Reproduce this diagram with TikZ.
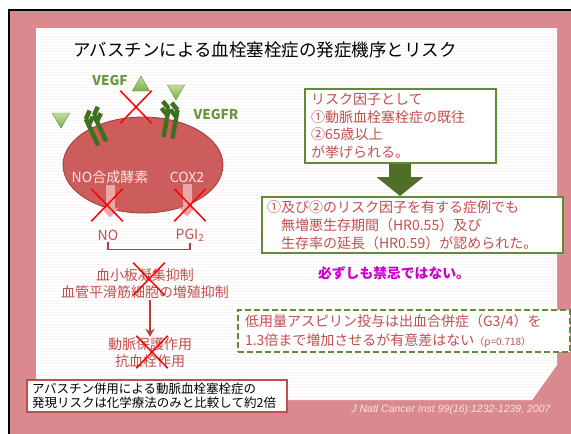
\documentclass[tikz,border=0pt]{standalone}
\usepackage{fontspec}
\setmainfont{Noto Sans CJK JP}
\newfontfamily\citefont{Liberation Sans}
\usetikzlibrary{shapes.geometric,shapes.misc,arrows.meta}

\definecolor{slidepink}{RGB}{218,138,143}
\definecolor{paperline}{RGB}{250,245,246}
\definecolor{cellred}{RGB}{205,92,92}
\definecolor{celledge}{RGB}{165,55,55}
\definecolor{textred}{RGB}{192,80,77}
\definecolor{boxgreen}{RGB}{98,140,52}
\definecolor{arrowgreen}{RGB}{79,110,38}
\definecolor{ligandgreen}{RGB}{140,195,80}
\definecolor{receptorgreen}{RGB}{62,112,32}
\definecolor{labelgreen}{RGB}{106,150,64}
\definecolor{fadepink}{RGB}{236,168,168}
\definecolor{bracketred}{RGB}{180,62,62}
\definecolor{warnmagenta}{RGB}{204,0,204}
\definecolor{citepink}{RGB}{250,228,230}

\begin{document}
\begin{tikzpicture}[x=1pt,y=-1pt]

%
% Styles
%
\tikzstyle{title}    = [font=\fontsize{17.5}{20}\selectfont, inner sep=0pt]
\tikzstyle{tag}      = [font=\fontsize{13.5}{15}\selectfont\bfseries, text=labelgreen, inner sep=0pt]
\tikzstyle{ligand}   = [regular polygon, regular polygon sides=3, minimum size=20pt, inner sep=0pt, draw=ligandgreen!70!black, top color=ligandgreen!55!white, bottom color=ligandgreen!90!black, thin]
\tikzstyle{receptor} = [receptorgreen, line width=4.5pt]
\tikzstyle{cell}     = [ellipse, draw=celledge, fill=cellred, line width=0.8pt, minimum width=160pt, minimum height=96pt]
\tikzstyle{inlabel}  = [font=\fontsize{14}{16}\selectfont, text=white!90!red, inner sep=1pt]
\tikzstyle{product}  = [font=\fontsize{14}{16}\selectfont, text=textred, inner sep=1pt]
\tikzstyle{effect}   = [font=\fontsize{14}{17}\selectfont, text=textred, align=center, inner sep=1pt]
\tikzstyle{veto}     = [cross out, draw=red, line width=1.5pt, minimum width=30pt, minimum height=31pt, inner sep=0pt]
\tikzstyle{fade}     = [fadepink, line width=9pt, -{Triangle[width=16pt,length=9pt]}]
\tikzstyle{bracket}  = [bracketred, line width=1.6pt]
\tikzstyle{flow}     = [bracketred, line width=1.8pt, -{Stealth[width=9pt,length=8pt]}]
\tikzstyle{box}      = [draw=boxgreen, fill=white, line width=2pt, text=textred, align=left, font=\fontsize{14}{17.5}\selectfont]
\tikzstyle{bigarrow} = [arrowgreen, line width=22pt, -{Triangle[width=46pt,length=19pt]}]
\tikzstyle{warn}     = [font=\fontsize{13.8}{16}\selectfont\bfseries, text=warnmagenta]
\tikzstyle{combo}    = [draw=textred, fill=white, line width=1.5pt, align=left, font=\fontsize{12.5}{13.5}\selectfont, inner xsep=5pt, text width=250pt, minimum height=28pt]
\tikzstyle{cite}     = [font=\citefont\itshape\fontsize{10.5}{12}\selectfont, text=citepink]

\useasboundingbox (0,0) rectangle (571,434);

% slide background, frame and paper
\fill[white] (0,0) rectangle (571,434);
\fill[slidepink] (10,11) rectangle (571,434);
\draw[black, line width=2pt] (9,434) -- (9,10) -- (571,10);
\fill[white] (36,28) -- (557,28) -- (557,365) -- (532,400) -- (36,400) -- cycle;
\begin{scope}
  \clip (36,28) -- (557,28) -- (557,365) -- (532,400) -- (36,400) -- cycle;
  \foreach \y in {30,33,...,399}
    \draw[paperline, line width=0.8pt] (36,\y) -- (557,\y);
\end{scope}

\node[title] (head) at (265,50) {アバスチンによる血栓塞栓症の発症機序とリスク};

% endothelial cell with VEGF / VEGFR
\node[cell] (cell) at (143,165) {};

\node[tag] (vegf)  at (110,80)  {VEGF};
\node[tag] (vegfr) at (216,114) {VEGFR};

\node[ligand]                          (l1) at (141,86)  {};
\node[ligand, shape border rotate=180] (l2) at (176,90)  {};
\node[ligand, shape border rotate=180] (l3) at (61,118)  {};

\begin{scope}[shift={(95,128)}, rotate=25]
  \foreach \x in {-4.5,4.5}
    \draw[receptor] (\x,-12) -- (\x,17) (\x,-12) -- (\x+7,-18) (\x,-5) -- (\x+7,-11);
\end{scope}
\begin{scope}[shift={(171,121)}, rotate=-10, xscale=-1]
  \foreach \x in {-4.5,4.5}
    \draw[receptor] (\x,-12) -- (\x,17) (\x,-12) -- (\x+7,-18) (\x,-5) -- (\x+7,-11);
\end{scope}

\node[inlabel] (nos) at (110,177) {NO合成酵素};
\node[inlabel] (cox) at (187,177) {COX2};

\node[product] (no)  at (108,235) {NO};
\node[product] (pgi) at (190,235) {PGI\textsubscript{2}};

\draw[fade] (nos.south) -- (nos.south |- no.north) [shorten >=11pt];
\draw[fade] (cox.south) -- (cox.south |- pgi.north) [shorten >=11pt];

\draw[bracket] (no.south) -- ++(0,8) -| (pgi.south);

\node[effect] (inhib)   at (145,284) {血小板凝集抑制\\血管平滑筋細胞の増殖抑制};
\node[effect] (protect) at (150,353) {動脈保護作用\\抗血栓作用};
\draw[flow] (inhib.south -| 150,0) -- (protect.north -| 150,0);

\node[veto] (x1) at (136,107) {};
\node[veto] (x2) at (107,205) {};
\node[veto] (x3) at (190,205) {};
\node[veto] (x4) at (149,279) {};
\node[veto] (x5) at (152,352) {};

% risk factors and outcome
\node[box, text width=179pt, inner xsep=6pt, minimum height=74pt] (risk) at (400.5,126)
  {リスク因子として\\①動脈血栓塞栓症の既往\\②65歳以上\\が挙げられる。};

\node[box, text width=291pt, inner xsep=5pt, minimum height=56pt, font=\fontsize{14}{18}\selectfont] (case) at (412.5,225)
  {①及び②のリスク因子を有する症例でも\\\hspace*{1em}無増悪生存期間（HR0.55）及び\\\hspace*{1em}生存率の延長（HR0.59）が認められた。};

\draw[bigarrow] (risk.south -| 400,0) -- (case.north -| 400,0);

\node[warn] (nota) at (394,273) {必ずしも禁忌ではない。};

\node[box, dashed, dash pattern=on 6pt off 3pt, text width=318pt, inner xsep=7pt, minimum height=42pt, font=\fontsize{14}{19}\selectfont] (asp) at (404,331)
  {低用量アスピリン投与は出血合併症（G3/4）を\\1.3倍まで増加させるが有意差はない{\fontsize{10}{12}\selectfont（\textit{p}=0.718）}};

\node[combo] (combi) at (157,396)
  {アバスチン併用による動脈血栓塞栓症の\\発現リスクは化学療法のみと比較して約2倍};

\node[cite] (ref) at (451,410) {J Natl Cancer Inst 99(16):1232-1239, 2007};

\end{tikzpicture}
\end{document}
